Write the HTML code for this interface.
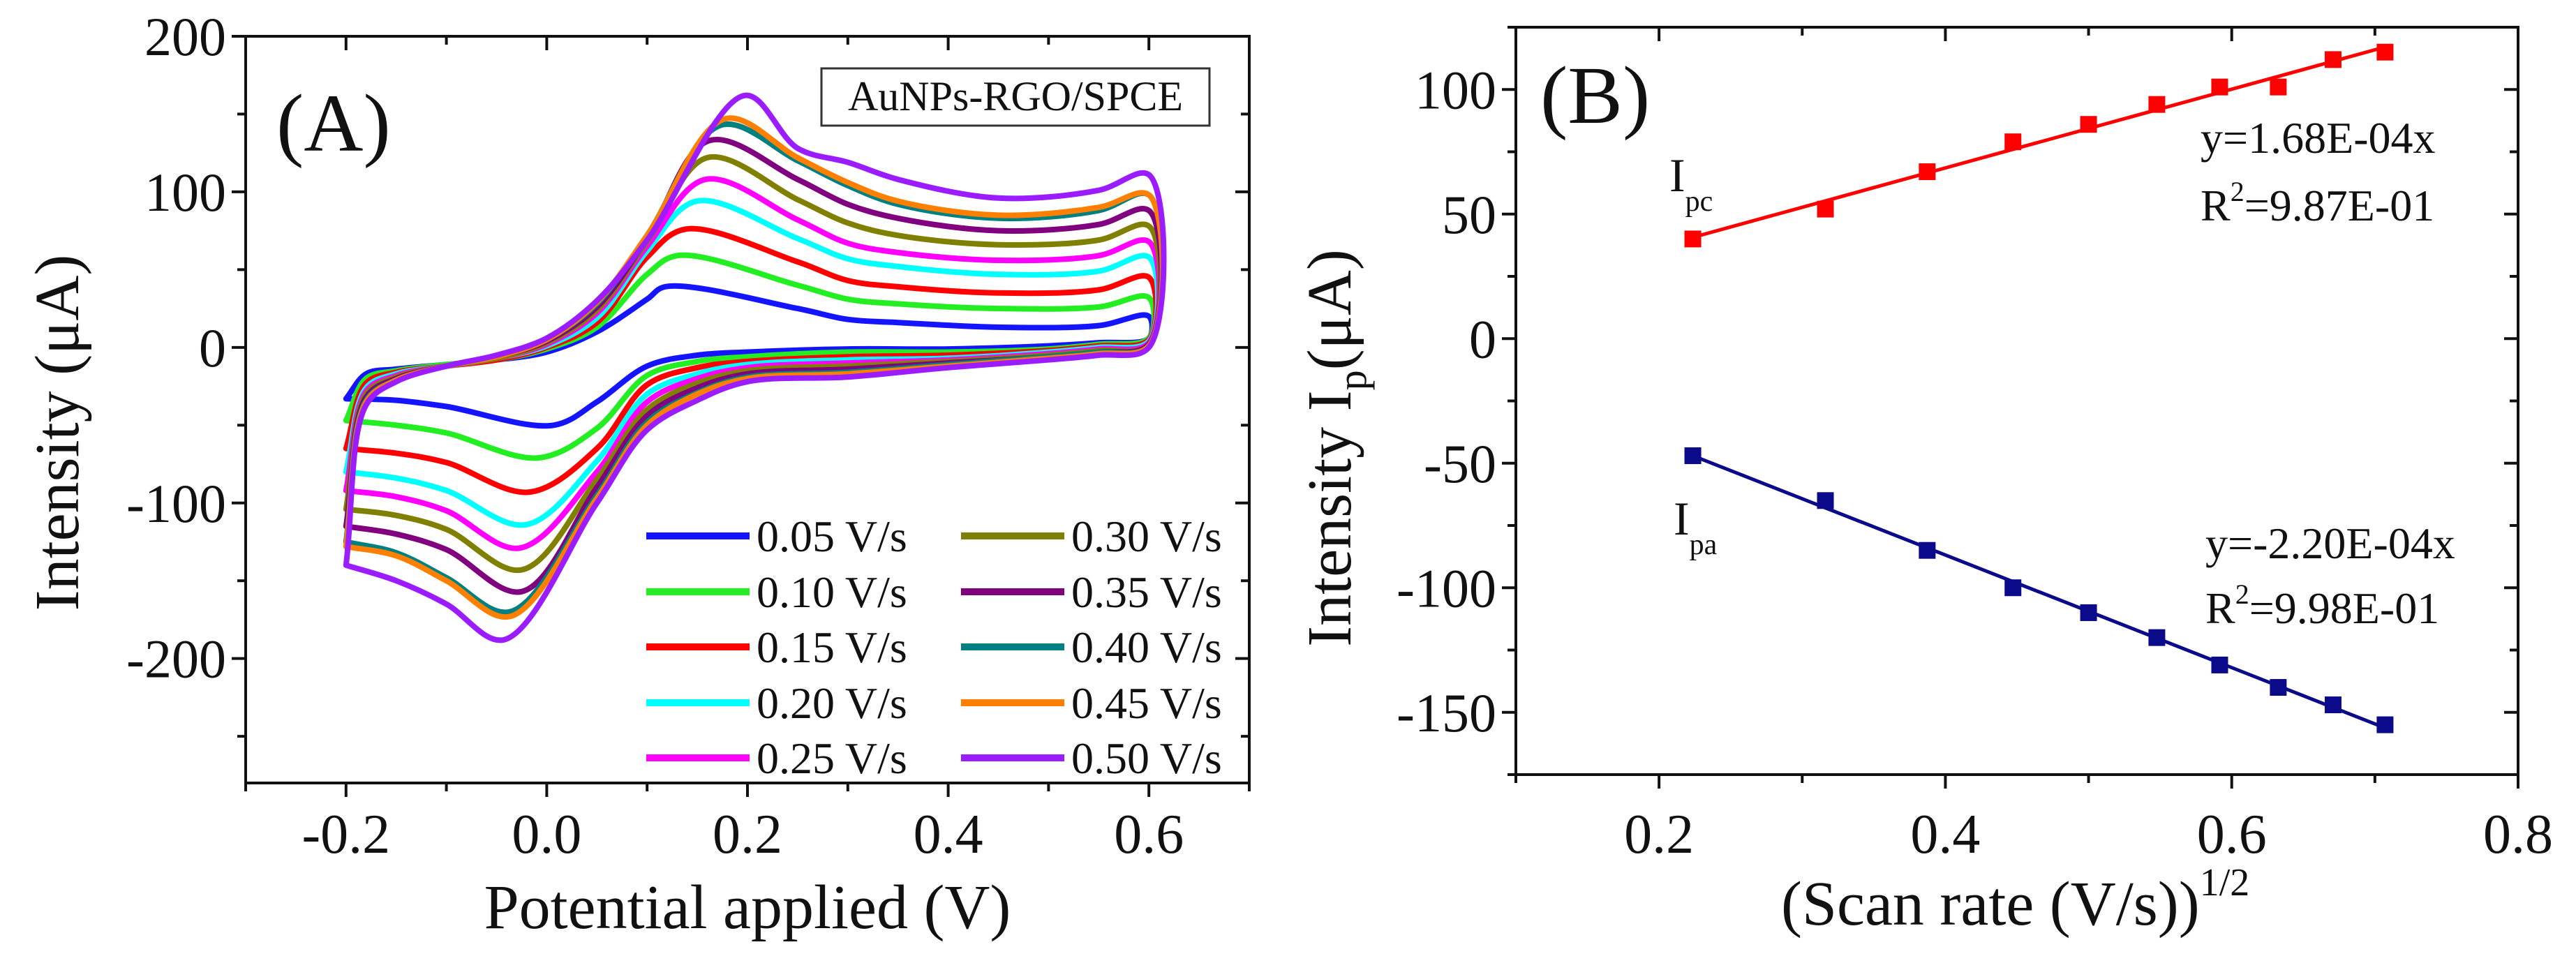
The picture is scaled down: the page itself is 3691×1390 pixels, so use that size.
<!DOCTYPE html>
<html><head><meta charset="utf-8"><style>
html,body{margin:0;padding:0;background:#fff;}
svg{display:block;font-family:"Liberation Serif",serif;}
</style></head><body>
<svg id="fig" width="3691" height="1390" viewBox="0 0 3691 1390" xmlns="http://www.w3.org/2000/svg">
<g id="pa"></g>
<g id="pb"></g>
</svg>
<script>
// ---------- Panel A data ----------
const rates = ["0.05 V/s","0.10 V/s","0.15 V/s","0.20 V/s","0.25 V/s","0.30 V/s","0.35 V/s","0.40 V/s","0.45 V/s","0.50 V/s"];
const colorsA = ["#1414ff","#22ee22","#ff0000","#00ffff","#ff00ff","#808000","#800080","#008080","#ff8000","#9b1cff"];
const upE = [-0.18,-0.15,-0.1,-0.05,0.0,0.05,0.1];
const upI = [
 [-17,-14,-11,-8,-3,10,31],[-20,-15,-11,-8,-1,13,47],[-23,-16,-12,-8,0,16,58],[-26,-17,-12,-7,1,19,62],
 [-28,-18,-12,-7,2,22,65],[-30,-19,-12,-7,3,24,68],[-32,-20,-12,-6,4,26,70],[-34,-21,-12,-6,5,28,72],
 [-35,-21,-12,-6,5,29,72],[-37,-22,-12,-5,6,30,69]];
const Epa = [0.118,0.13,0.138,0.149,0.158,0.16,0.162,0.174,0.178,0.198];
const Ipa = [39,59,76,94,108,122,133,143,147,162];
const postE = [0.25,0.3,0.35,0.45,0.55,0.6];
const postI = [
 [25,18,16,13,14,20],[40,31,28,25,26,32],[55,43,39,35,37,45],[70,57,52,47,49,58],[82,67,61,56,59,68],
 [95,80,72,66,69,78],[108,92,83,75,79,88],[120,104,92,83,88,98],[122,106,94,85,90,98],[128,119,108,96,101,111]];
const lowE = [0.6,0.55,0.5,0.4,0.3,0.2,0.15,0.1,0.05];
const lowI = [
 [6,3,1,-1,-1,-3,-5,-12,-35],[6,2,-1,-3,-3,-6,-9,-18,-52],[5,1,-2,-5,-6,-9,-13,-24,-65],[4,0,-3,-7,-8,-11,-17,-30,-73],
 [3,-1,-4,-8,-10,-13,-20,-35,-80],[2,-2,-5,-9,-12,-15,-23,-40,-85],[2,-3,-6,-10,-14,-17,-26,-44,-90],[1,-3,-6,-11,-16,-19,-29,-48,-95],
 [1,-4,-7,-12,-17,-20,-30,-50,-97],[0,-5,-8,-13,-19,-22,-34,-53,-100]];
const Epc = [0.007,-0.008,-0.017,-0.021,-0.027,-0.025,-0.025,-0.037,-0.037,-0.043];
const Ipc = [-50,-71,-93,-114,-129,-143,-157,-170,-173,-188];
const tailE = [-0.1,-0.15,-0.2];
const tailI = [
 [-38,-34,-33],[-55,-50,-47],[-74,-68,-65],[-92,-84,-80],[-105,-96,-92],
 [-117,-108,-104],[-130,-120,-115],[-148,-132,-125],[-150,-134,-128],[-165,-150,-140]];
const xTicksA = [-0.2,0.0,0.2,0.4,0.6];
const xTickLabelsA = ["-0.2","0.0","0.2","0.4","0.6"];
const yTicksA = [-200,-100,0,100,200];
const yTickLabelsA = ["-200","-100","0","100","200"];

// ---------- Panel B data ----------
const scanRoot = [0.2236,0.3162,0.3873,0.4472,0.5,0.5477,0.5916,0.6325,0.6708,0.7071];
const ipcVals = [40,52,67,79,86,94,101,101,112,115];
const ipaVals = [-47,-65,-85,-100,-110,-120,-131,-140,-147,-155];
const xTicksB = [0.2,0.4,0.6,0.8];
const xTickLabelsB = ["0.2","0.4","0.6","0.8"];
const yTicksB = [-150,-100,-50,0,50,100];
const yTickLabelsB = ["-150","-100","-50","0","50","100"];

const NS="http://www.w3.org/2000/svg";
function mk(tag,parent,attrs){const e=document.createElementNS(NS,tag);for(const k in attrs)e.setAttribute(k,attrs[k]);parent.appendChild(e);return e;}

// centripetal Catmull-Rom
function catmull(pts){
  const f=p=>p[0].toFixed(1)+","+p[1].toFixed(1);
  let d="M"+f(pts[0]);
  const dist=(a,b)=>Math.max(1e-3,Math.pow(Math.hypot(b[0]-a[0],b[1]-a[1]),0.5));
  for(let i=0;i<pts.length-1;i++){
    const p1=pts[i],p2=pts[i+1];
    const p0=i>0?pts[i-1]:[2*p1[0]-p2[0],2*p1[1]-p2[1]];
    const p3=i+2<pts.length?pts[i+2]:[2*p2[0]-p1[0],2*p2[1]-p1[1]];
    const d1=dist(p0,p1),d2=dist(p1,p2),d3=dist(p2,p3);
    const c1=[],c2=[];
    for(let k=0;k<2;k++){
      c1[k]=(d1*d1*p2[k]-d2*d2*p0[k]+(2*d1*d1+3*d1*d2+d2*d2)*p1[k])/(3*d1*(d1+d2));
      c2[k]=(d3*d3*p1[k]-d2*d2*p3[k]+(2*d3*d3+3*d3*d2+d2*d2)*p2[k])/(3*d3*(d3+d2));
    }
    d+="C"+f(c1)+" "+f(c2)+" "+f(p2);
  }
  return d;
}

function drawFrame(g,L,T,R,B,xs,ys,xTicks,xLabels,yTicks,yLabels,xMinor,yMinor){
  const frame=mk("rect",g,{x:L,y:T,width:R-L,height:B-T,fill:"none",stroke:"#111","stroke-width":4});
  
  
  xMinor.forEach(v=>{const x=xs(v);const big=xTicks.some(t=>Math.abs(t-v)<1e-6);const l=big?20:12;
    mk("line",g,{x1:x,y1:B,x2:x,y2:B+l,stroke:"#111","stroke-width":4});
    mk("line",g,{x1:x,y1:T,x2:x,y2:T+l,stroke:"#111","stroke-width":4});});
  yMinor.forEach(v=>{const y=ys(v);const big=yTicks.some(t=>Math.abs(t-v)<1e-6);const l=big?20:12;
    mk("line",g,{x1:L-l,y1:y,x2:L,y2:y,stroke:"#111","stroke-width":4});
    mk("line",g,{x1:R-l,y1:y,x2:R,y2:y,stroke:"#111","stroke-width":4});});
  xTicks.forEach((v,i)=>{const t=mk("text",g,{x:xs(v),y:1222,"font-size":80,"text-anchor":"middle",fill:"#111"});t.textContent=xLabels[i];
    
    });
  yTicks.forEach((v,i)=>{const t=mk("text",g,{x:L-28,y:ys(v)+27,"font-size":78,"text-anchor":"end",fill:"#111"});t.textContent=yLabels[i];
    
    });
}

// ---------- Panel A ----------
(function(){
  const g=document.getElementById("pa");
  const L=352,R=1790,T=52,B=1122;
  const xs=v=>L+(v-(-0.3))/(1.0)*(R-L);
  const ys=v=>T+(200-v)/480*(B-T);
  const xm=[],ym=[];
  for(let v=-3;v<=7;v++)xm.push(v/10);
  for(let v=-250;v<=200;v+=50)ym.push(v);
  drawFrame(g,L,T,R,B,xs,ys,xTicksA,xTickLabelsA,yTicksA,yTickLabelsA,xm,ym);
  const cg=mk("g",g,{});
  
  
  for(let k=0;k<rates.length;k++){
    const pts=[];
    const lowEnd=tailI[k][2];
    pts.push([-0.2,lowEnd]);
    upE.forEach((e,i)=>pts.push([e,upI[k][i]]));
    pts.push([Epa[k],Ipa[k]]);
    postE.forEach((e,i)=>pts.push([e,postI[k][i]]));
    lowE.forEach((e,i)=>pts.push([e,lowI[k][i]]));
    pts.push([Epc[k],Ipc[k]]);
    tailE.forEach((e,i)=>pts.push([e,tailI[k][i]]));
    const pp=pts.map(p=>[xs(p[0]),ys(p[1])]);
    const path=mk("path",cg,{d:catmull(pp),fill:"none",stroke:colorsA[k],"stroke-width":8,"stroke-linejoin":"round","stroke-linecap":"round"});
    
    
  }
  // legend
  const lg=mk("g",g,{});
  
  
  const rowsY=[768,848,927,1007,1086];
  rates.forEach((r,k)=>{
    const col=Math.floor(k/5),row=k%5;
    const x0=col?1377:926;
    const e=mk("g",lg,{});
    
    
    mk("line",e,{x1:x0,y1:rowsY[row],x2:x0+148,y2:rowsY[row],stroke:colorsA[k],"stroke-width":10});
    const t=mk("text",e,{x:x0+158,y:rowsY[row]+22,"font-size":64,fill:"#111"});t.textContent=r;
  });
  const box=mk("rect",g,{x:1177,y:98,width:556,height:82,fill:"#fff",stroke:"#333","stroke-width":3});
  
  
  const bt=mk("text",g,{x:1455,y:158,"font-size":60,"text-anchor":"middle",fill:"#111"});bt.textContent="AuNPs-RGO/SPCE";
  
  
  const pl=mk("text",g,{x:396,y:216,"font-size":118,fill:"#111"});pl.textContent="(A)";
  
  
  const xt=mk("text",g,{x:1071,y:1330,"font-size":90,"text-anchor":"middle",fill:"#111"});xt.textContent="Potential applied (V)";
  
  
  const yt=mk("text",g,{x:0,y:0,"font-size":90,"text-anchor":"middle",fill:"#111",transform:"translate(112,620) rotate(-90)"});yt.textContent="Intensity (μA)";
  
  
})();

// ---------- Panel B ----------
(function(){
  const g=document.getElementById("pb");
  const L=2172,R=3608,T=39,B=1110;
  const xs=v=>L+(v-0.1)/0.7*(R-L);
  const ys=v=>T+(125-v)/300*(B-T);
  const xm=[],ym=[];
  for(let v=1;v<=8;v++)xm.push(v/10);
  for(let v=-175;v<=125;v+=25)ym.push(v);
  drawFrame(g,L,T,R,B,xs,ys,xTicksB,xTickLabelsB,yTicksB,yTickLabelsB,xm,ym);
  function fit(xv,yv){const n=xv.length;let sx=0,sy=0,sxx=0,sxy=0;for(let i=0;i<n;i++){sx+=xv[i];sy+=yv[i];sxx+=xv[i]*xv[i];sxy+=xv[i]*yv[i];}
    const m=(n*sxy-sx*sy)/(n*sxx-sx*sx);return [m,(sy-m*sx)/n];}
  [[ipcVals,"#ff0000","ipc"],[ipaVals,"#0a0a8a","ipa"]].forEach(([vals,c,nm])=>{
    const [m,b]=fit(scanRoot,vals);
    const x0=scanRoot[0],x1=scanRoot[scanRoot.length-1];
    const ln=mk("line",g,{x1:xs(x0),y1:ys(m*x0+b),x2:xs(x1),y2:ys(m*x1+b),stroke:c,"stroke-width":5});
    
    
    vals.forEach((v,i)=>{
      const r=mk("rect",g,{x:xs(scanRoot[i])-12,y:ys(v)-12,width:24,height:24,fill:c});
      
      
    });
  });
  function txt(x,y,html,fs,name){const t=mk("text",g,{x:x,y:y,"font-size":fs,fill:"#111"});t.innerHTML=html;
    
    return t;}
  txt(2207,176,"(B)",118,"panel-label-b");
  txt(3153,219,"y=1.68E-04x",64,"fit-equation-ipc");
  txt(3153,316,'R<tspan dy="-28" font-size="40">2</tspan><tspan dy="28">=9.87E-01</tspan>',64,"r-squared-ipc");
  txt(3160,800,"y=-2.20E-04x",64,"fit-equation-ipa");
  txt(3160,893,'R<tspan dy="-28" font-size="40">2</tspan><tspan dy="28">=9.98E-01</tspan>',64,"r-squared-ipa");
  txt(2392,274,'I<tspan dy="28" font-size="42">pc</tspan>',68,"series-label-ipc");
  txt(2398,766,'I<tspan dy="28" font-size="42">pa</tspan>',68,"series-label-ipa");
  txt(2552,1325,'(Scan rate (V/s))<tspan dy="-42" font-size="56">1/2</tspan>',90,"x-axis-title");
  const yt=mk("text",g,{x:0,y:0,"font-size":90,"text-anchor":"middle",fill:"#111",transform:"translate(1935,642) rotate(-90)"});
  yt.innerHTML='Intensity I<tspan dy="22" font-size="58">p</tspan><tspan dy="-22">(μA)</tspan>';
  
  
})();
</script>
</body></html>
